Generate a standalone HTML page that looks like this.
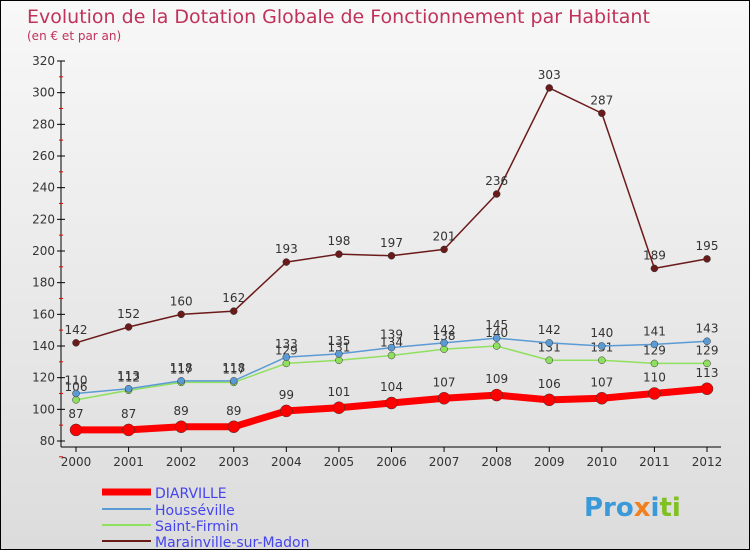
<!DOCTYPE html>
<html><head><meta charset="utf-8"><style>
body{margin:0;}
#c{position:relative;width:748px;height:548px;border:1px solid #000;background:linear-gradient(#f8f8f8,#dcdcdc);font-family:"DejaVu Sans","Liberation Sans",sans-serif;overflow:hidden}
</style></head><body>
<div id="c">
<svg id="s" width="748" height="548" xmlns="http://www.w3.org/2000/svg">
<text x="26" y="22" font-size="19" fill="#c0325a">Evolution de la Dotation Globale de Fonctionnement par Habitant</text>
<text x="26" y="39" font-size="12" fill="#c0325a">(en € et par an)</text>
<g id="axes"></g><g id="series"></g>
<g>
<line x1="101" y1="491" x2="150" y2="491" stroke="#f00" stroke-width="7"/>
<text x="154" y="497" font-size="14" fill="#4444ee">DIARVILLE</text>
<line x1="101" y1="508" x2="150" y2="508" stroke="#5b9bd5" stroke-width="2"/>
<text x="154" y="514" font-size="14" fill="#4444ee">Housséville</text>
<line x1="101" y1="524" x2="150" y2="524" stroke="#90e060" stroke-width="2"/>
<text x="154" y="530" font-size="14" fill="#4444ee">Saint-Firmin</text>
<line x1="101" y1="540" x2="150" y2="540" stroke="#6b1a1a" stroke-width="2"/>
<text x="154" y="546" font-size="14" fill="#4444ee">Marainville-sur-Madon</text>
</g>
<text x="583" y="515" font-size="26" font-weight="bold" fill="#3a9ad9">Pro<tspan fill="#f08020">x</tspan><tspan fill="#3a9ad9">i</tspan><tspan fill="#80c020">ti</tspan></text>
</svg>
</div>
<script>
const years=["2000","2001","2002","2003","2004","2005","2006","2007","2008","2009","2010","2011","2012"];
const yTicks=[80,100,120,140,160,180,200,220,240,260,280,300,320];
const diarville=[87,87,89,89,99,101,104,107,109,106,107,110,113];
const housseville=[110,113,118,118,133,135,139,142,145,142,140,141,143];
const saintFirmin=[106,112,117,117,129,131,134,138,140,131,131,129,129];
const marainville=[142,152,160,162,193,198,197,201,236,303,287,189,195];
const NS="http://www.w3.org/2000/svg";
const X=i=>75+i*(706-75)/12;
const Y=v=>440-(v-80)*(380/240);
function mk(t,a,p){const e=document.createElementNS(NS,t);for(const k in a)e.setAttribute(k,a[k]);p.appendChild(e);return e;}
const ax=document.getElementById('axes');
const yAxis=mk('line',{x1:60,y1:60,x2:60,y2:446,stroke:'#000'},ax);


const xAxis=mk('line',{x1:60,y1:446,x2:720,y2:446,stroke:'#000'},ax);


yTicks.forEach(v=>{
  mk('line',{x1:56,y1:Y(v),x2:64,y2:Y(v),stroke:'#000'},ax);
  mk('line',{x1:58,y1:Y(v)+15.8,x2:62,y2:Y(v)+15.8,stroke:'#e00'},ax);
  const t=mk('text',{x:54,y:Y(v)+4,'font-size':12,fill:'#333','text-anchor':'end'},ax);
  t.textContent=v;
  
  
});
years.forEach((y,i)=>{
  mk('line',{x1:X(i),y1:446,x2:X(i),y2:451,stroke:'#000'},ax);
  const t=mk('text',{x:X(i),y:465,'font-size':12,fill:'#333','text-anchor':'middle'},ax);
  t.textContent=y;
  
  
});
const sg=document.getElementById('series');
function series(vals,color,w,r,name,labelDy){
  const g=mk('g',{},sg);
  
  
  const l=mk('polyline',{points:vals.map((v,i)=>X(i)+','+Y(v)).join(' '),fill:'none',stroke:color,'stroke-width':w,'stroke-linejoin':'round'},g);
  
  
  vals.forEach((v,i)=>{
    const c=mk('circle',{cx:X(i),cy:Y(v),r:r,fill:color,stroke:'#333','stroke-width':0.5},g);
    
    
    const t=mk('text',{x:X(i),y:Y(v)+labelDy,'font-size':12,fill:'#333','text-anchor':'middle'},g);
    t.textContent=v;
    
    
  });
}
series(marainville,'#6b1a1a',1.5,3.5,'marainville',-9);
series(saintFirmin,'#90e060',1.5,3.5,'saint-firmin',-9);
series(housseville,'#5b9bd5',1.5,3.5,'housseville',-9);
series(diarville,'#ff0000',7,6,'diarville',-12);
</script>
</body></html>
